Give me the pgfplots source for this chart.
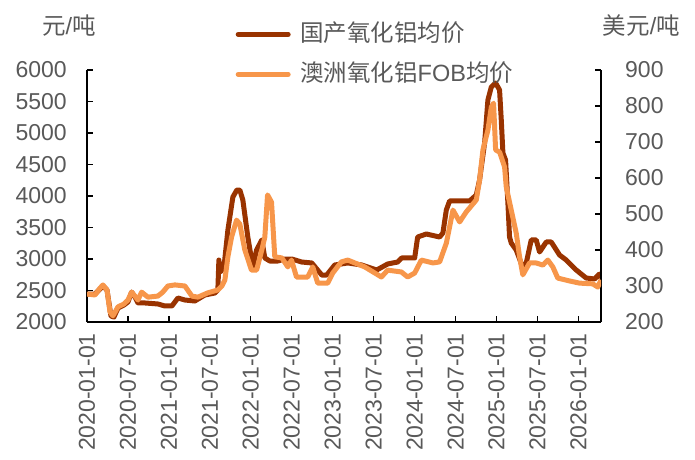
\documentclass[border=0pt]{standalone}
\usepackage{fontspec}
\setmainfont{Liberation Sans}
\newfontfamily\cjk{Noto Sans CJK SC}
\usepackage{pgfplots}
\pgfplotsset{compat=1.18}
\definecolor{darkbrown}{HTML}{993300}
\definecolor{lightorange}{HTML}{F7964A}
\definecolor{txtgrey}{HTML}{595959}
\pgfplotsset{
  every non boxed x axis/.append style={x axis line style={-}},
  every non boxed y axis/.append style={y axis line style={-}},
  common/.style={
    scale only axis, width=514bp, height=252bp,
    xmin=0, xmax=75.3,
    tick align=inside,
    major tick length=6bp,
    every tick/.style={black, line width=1.3bp},
    axis line style={black, line width=1.3bp, -},
    /pgf/number format/assume math mode=true,
    /pgf/number format/1000 sep={},
    tick label style={font=\fontsize{23bp}{27bp}\selectfont, text=txtgrey},
  }
}
\begin{document}
\begin{tikzpicture}
\useasboundingbox (-87bp,-138bp) rectangle (608bp,322bp);
\begin{axis}[common,
  axis x line*=bottom, axis y line*=left,
  ymin=2000, ymax=6000, ytick={2000,2500,...,6000},
  xtick={0,6,...,72},
  xticklabels={2020-01-01,2020-07-01,2021-01-01,2021-07-01,2022-01-01,2022-07-01,2023-01-01,2023-07-01,2024-01-01,2024-07-01,2025-01-01,2025-07-01,2026-01-01},
  xticklabel style={yshift=-11bp, rotate=90, anchor=east, inner sep=0pt},
  yticklabel style={anchor=east, inner sep=0pt, xshift=-20bp},
  ylabel={{\cjk 元}/{\cjk 吨}},
  ylabel style={rotate=-90, at={(axis description cs:-0.035,1.175)}, anchor=center, font=\fontsize{23.5bp}{27bp}\selectfont, text=txtgrey, inner sep=0pt},
]
\addplot[darkbrown, line width=5bp, line join=round] coordinates {
(0,2444)(1.17,2444)(2.34,2571)(2.93,2508)(3.51,2095)(3.95,2079)(4.54,2222)(5.41,2270)(6.0,2317)(6.54,2476)(7.02,2397)(7.46,2302)(8.49,2302)(10.39,2286)(11.42,2254)(12.44,2254)(13.32,2381)(14.34,2349)(15.8,2333)(17.27,2429)(18.73,2460)(19.17,2508)(19.32,2984)(19.5,2794)(20.05,2857)(20.64,3460)(21.37,3984)(21.95,4095)(22.39,4095)(22.83,3937)(23.56,3349)(24.29,2873)(24.84,3143)(25.61,3302)(26.05,3016)(26.78,2968)(27.95,2968)(28.98,3000)(30.0,3000)(31.46,2952)(32.93,2937)(34.39,2746)(35.12,2746)(36.29,2905)(38.2,2937)(40.25,2905)(42.44,2825)(44.05,2921)(45.51,2952)(46.1,3016)(48.0,3016)(48.44,3349)(49.71,3397)(51.66,3349)(52.14,3413)(52.64,3778)(53.12,3921)(56.05,3921)(57.03,4016)(57.51,4254)(58.25,4841)(58.73,5524)(59.23,5730)(59.86,5794)(60.44,5683)(60.69,5206)(60.93,4683)(61.32,4571)(61.66,3889)(61.9,3349)(62.15,3254)(62.88,3143)(63.81,2873)(64.35,2937)(65.08,3302)(65.81,3302)(66.3,3111)(67.28,3270)(68.01,3270)(69.23,3063)(70.2,2984)(71.67,2825)(73.13,2698)(74.35,2683)(75.08,2762)(75.3,2698)
};
\end{axis}
\begin{axis}[common,
  axis x line=none, axis y line*=right,
  ymin=200, ymax=900, ytick={200,300,...,900},
  yticklabel style={anchor=west, inner sep=0pt, xshift=24bp},
  ylabel={{\cjk 美元}/{\cjk 吨}},
  ylabel style={rotate=-90, at={(axis description cs:1.0788,1.175)}, anchor=center, font=\fontsize{23.5bp}{27bp}\selectfont, text=txtgrey, inner sep=0pt},
  legend cell align=left,
  legend style={draw=none, fill=none, at={(axis description cs:0.2889,1.194)}, anchor=north west,
    font=\fontsize{23.5bp}{27bp}\selectfont, text=txtgrey, row sep=14bp, column sep=9.5bp, inner sep=0pt,
    nodes={inner sep=0pt, text height=20bp, text depth=6bp}},
  legend image code/.code={\draw[#1, line width=5bp, line cap=round] (0bp,0bp) -- (50bp,0bp);},
]
\addlegendimage{darkbrown}
\addlegendentry{{\cjk 国产氧化铝均价}}
\addplot[lightorange, line width=5bp, line join=round] coordinates {
(0,277.8)(1.17,275)(1.9,294)(2.34,303)(2.93,289)(3.37,228)(3.8,217)(4.54,242)(5.41,250)(6.0,261)(6.54,283)(7.02,272)(7.46,261)(8.0,283)(8.93,269)(10.39,272)(11.1,283)(11.85,300)(12.88,303)(14.34,300)(15.37,272)(16.24,269)(17.7,281)(19.17,289)(19.76,300)(20.2,317)(20.64,381)(21.18,436)(21.91,483)(22.39,472)(23.12,400)(24.1,344)(24.84,344)(25.61,400)(26.05,436)(26.45,553)(27.03,533)(27.51,381)(28.54,378)(29.42,353)(29.96,372)(30.69,325)(32.34,325)(33.07,353)(33.8,308)(35.27,308)(36.0,336)(37.27,367)(38.2,372)(40.69,353)(43.13,325)(44.05,344)(46.05,339)(46.98,325)(48.0,336)(48.98,372)(50.68,364)(51.66,367)(52.64,419)(53.61,511)(54.59,478)(55.57,506)(57.03,539)(57.51,594)(58.0,678)(58.73,733)(59.23,797)(59.56,808)(59.86,678)(60.44,672)(61.17,631)(61.42,575)(62.15,511)(62.88,447)(63.37,381)(63.85,331)(64.83,364)(65.81,364)(66.78,358)(67.51,372)(68.24,353)(68.97,322)(70.69,314)(72.15,308)(74.1,306)(74.83,297)(75.3,317)
};
\addlegendentry{{\cjk 澳洲氧化铝}FOB{\cjk 均价}}
\end{axis}
\end{tikzpicture}
\end{document}
